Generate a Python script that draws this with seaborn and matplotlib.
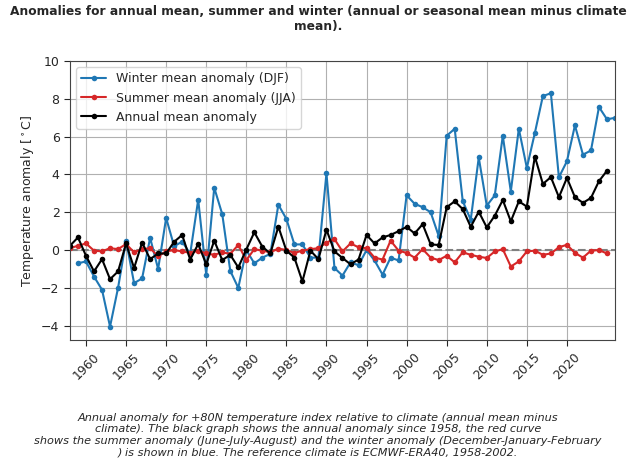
import numpy as np
import pandas as pd
import seaborn as sns
import matplotlib
matplotlib.use("Agg")
import matplotlib.pyplot as plt

years_w = list(range(1959, 2027))
winter = [-0.7, -0.6, -1.4, -2.1, -4.05, -2.0, 0.5, -1.75, -1.5, 0.65, -1.0, 1.7, 0.2, 0.45, -0.2,
          2.67, -1.3, 3.3, 1.9, -1.1, -2.0, 0.0, -0.7, -0.4, -0.2, 2.4, 1.65, 0.3, 0.3, -0.4, -0.4,
          4.07, -0.95, -1.35, -0.65, -0.8, 0.0, -0.55, -1.3, -0.4, -0.55, 2.9, 2.45, 2.27, 2.0, 0.75,
          6.05, 6.42, 2.6, 1.6, 4.9, 2.35, 2.9, 6.05, 3.1, 6.42, 4.35, 6.2, 8.15, 8.3, 3.85, 4.7,
          6.6, 5.05, 5.27, 7.57, 6.92, 7.0]
years = list(range(1958, 2026))
summer = [0.1, 0.23, 0.35, -0.03, -0.07, 0.1, 0.05, 0.32, -0.12, 0.05, 0.1, -0.33, -0.07, 0.0,
          -0.07, -0.15, -0.03, -0.18, -0.25, -0.12, -0.2, 0.27, -0.53, 0.05, -0.03, -0.12, 0.08,
          0.0, -0.15, -0.03, 0.05, 0.1, 0.4, 0.58, -0.07, 0.35, 0.15, 0.1, -0.4, -0.5, 0.5, -0.03,
          -0.15, -0.4, 0.05, -0.4, -0.53, -0.3, -0.65, -0.12, -0.25, -0.35, -0.42, -0.07, 0.05,
          -0.87, -0.6, -0.07, -0.03, -0.25, -0.18, 0.15, 0.28, -0.15, -0.4, -0.03, 0.0, -0.18]
annual = [0.23, 0.67, -0.3, -1.13, -0.48, -1.54, -1.13, 0.35, -0.95, 0.4, -0.48, -0.18, -0.18,
          0.44, 0.8, -0.5, 0.32, -0.75, 0.5, -0.53, -0.25, -0.92, 0.03, 0.94, 0.18, -0.18, 1.24,
          -0.03, -0.4, -1.66, -0.03, -0.48, 1.08, -0.07, -0.42, -0.75, -0.5, 0.8, 0.35, 0.67, 0.8,
          1.0, 1.23, 0.88, 1.37, 0.3, 0.27, 2.27, 2.58, 2.17, 1.23, 2.03, 1.2, 1.82, 2.65, 1.52,
          2.58, 2.3, 4.95, 3.5, 3.86, 2.8, 3.82, 2.8, 2.5, 2.76, 3.65, 4.2]

sns.set_style("whitegrid")
plt.rcParams['font.family'] = ['DejaVu Sans']
fig = plt.figure(figsize=(6.36, 4.63), dpi=100)
ax = fig.add_axes([0.11, 0.266, 0.857, 0.602])
ax.axhline(0, color='grey', ls='--', lw=1.5, zorder=1)
kw = dict(marker='o', markersize=4, markeredgewidth=0, linewidth=1.5, ax=ax)
sns.lineplot(x=years_w, y=winter, color='#1f77b4', label='Winter mean anomaly (DJF)', **kw)
sns.lineplot(x=years, y=summer, color='#d62728', label='Summer mean anomaly (JJA)', **kw)
sns.lineplot(x=years, y=annual, color='black', label='Annual mean anomaly', **kw)
ax.set_xlim(1958, 2026)
ax.set_ylim(-4.75, 10)
ax.set_xticks(range(1960, 2021, 5))
ax.set_yticks(range(-4, 11, 2))
for s in ax.spines.values():
    s.set_color('#444444')
ax.grid(True, color='#b0b0b0', lw=0.8)
ax.tick_params(axis='x', rotation=45, labelsize=9, bottom=True, length=4)
ax.tick_params(axis='y', labelsize=9, left=True, length=4)
ax.set_ylabel('Temperature anomaly [$^\\circ$C]', fontsize=9)
ax.legend(loc='upper left', fontsize=9, frameon=True)
fig.suptitle('Anomalies for annual mean, summer and winter (annual or seasonal mean minus climate\nmean).',
             fontsize=8.8, fontweight='bold', y=0.99)
fig.text(0.5, 0.012, 'Annual anomaly for +80N temperature index relative to climate (annual mean minus\n'
         'climate). The black graph shows the annual anomaly since 1958, the red curve\n'
         'shows the summer anomaly (June-July-August) and the winter anomaly (December-January-February\n'
         ') is shown in blue. The reference climate is ECMWF-ERA40, 1958-2002.',
         ha='center', va='bottom', fontsize=8.1, style='italic')
fig.savefig('out.png', dpi=100)
